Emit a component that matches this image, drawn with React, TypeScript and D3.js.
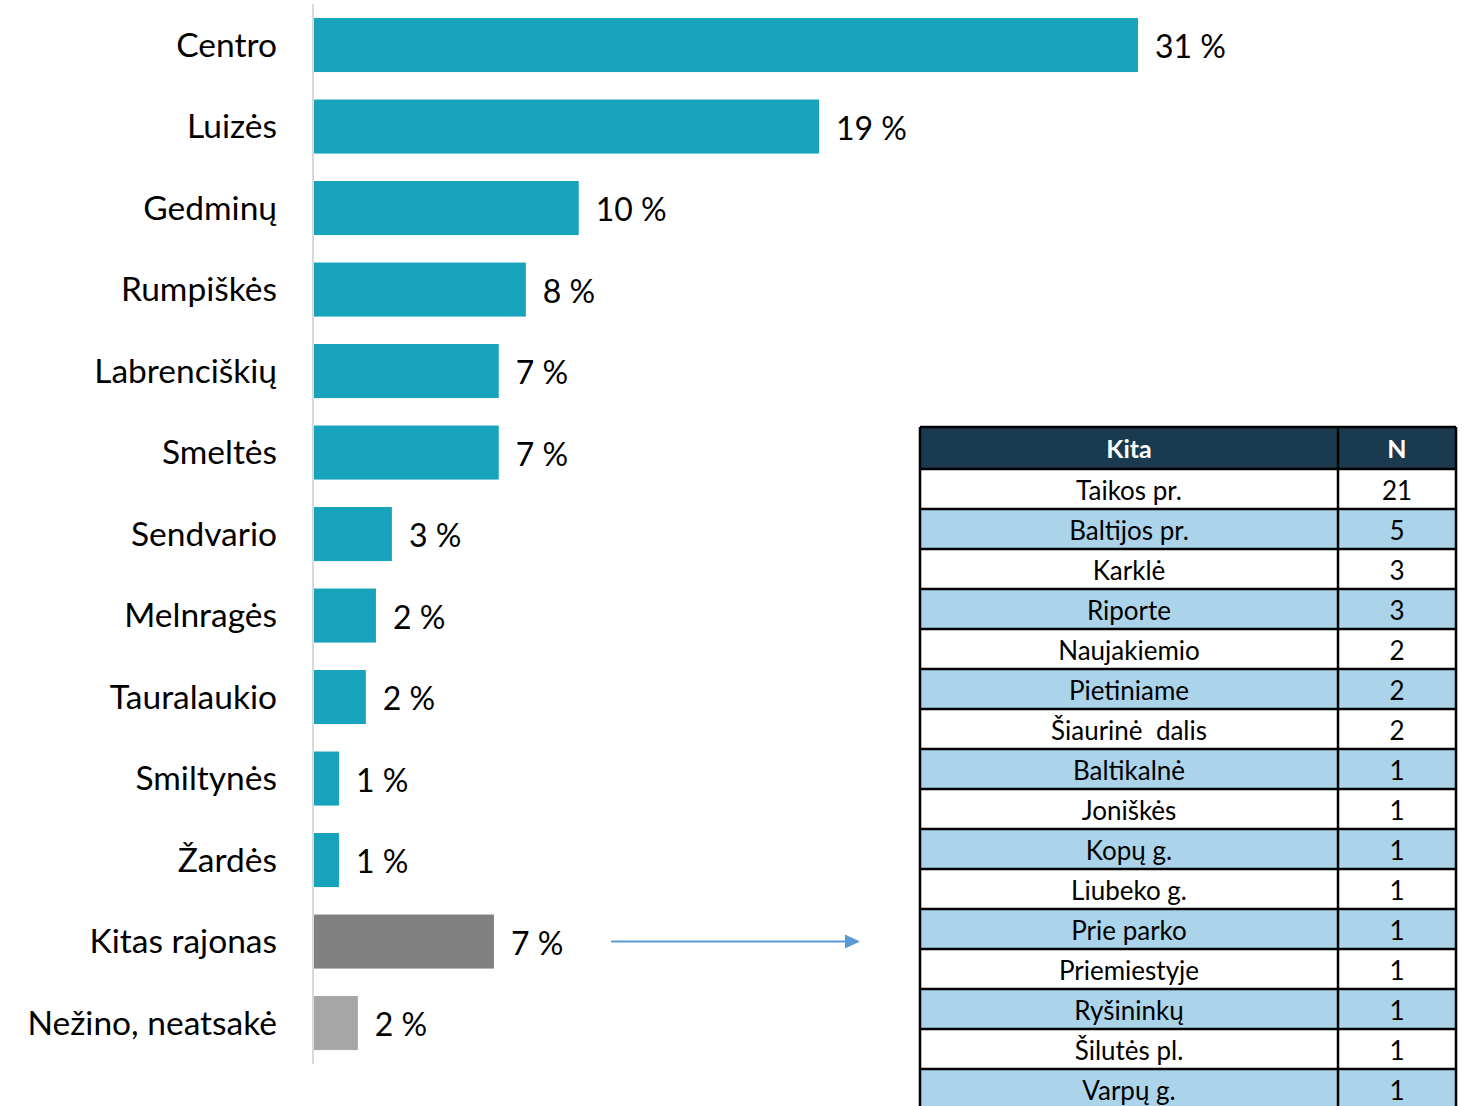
import { useEffect, useRef } from 'react';
import * as d3 from 'd3';

const categories = ['Centro', 'Luizės', 'Gedminų', 'Rumpiškės', 'Labrenciškių', 'Smeltės', 'Sendvario', 'Melnragės', 'Tauralaukio', 'Smiltynės', 'Žardės', 'Kitas rajonas', 'Nežino, neatsakė'];
const values = [31.0, 19.0, 9.96, 7.97, 6.95, 6.95, 2.93, 2.33, 1.95, 0.94, 0.94, 6.77, 1.65];
const valueLabels = ['31 %', '19 %', '10 %', '8 %', '7 %', '7 %', '3 %', '2 %', '2 %', '1 %', '1 %', '7 %', '2 %'];

const tableNames = ['Taikos pr.', 'Baltijos pr.', 'Karklė', 'Riporte', 'Naujakiemio', 'Pietiniame', 'Šiaurinė  dalis', 'Baltikalnė', 'Joniškės', 'Kopų g.', 'Liubeko g.', 'Prie parko', 'Priemiestyje', 'Ryšininkų', 'Šilutės pl.', 'Varpų g.'];
const tableCounts = [21, 5, 3, 3, 2, 2, 2, 1, 1, 1, 1, 1, 1, 1, 1, 1];

const FONT = 'Lato, "Open Sans", sans-serif';

export default function App() {
  const svgRef = useRef<SVGSVGElement>(null);

  useEffect(() => {
    document.body.style.margin = '0';
    if (!svgRef.current) return;
    const svg = d3.select(svgRef.current);
    svg.selectAll('*').remove();

    const x = d3.scaleLinear().domain([0, 31]).range([314, 1138]);
    const y = d3.scaleBand<string>().domain(categories).range([4.3, 1063.8]).paddingInner(0.337).paddingOuter(0.1685);

    const colorFor = (c: string) => (c === 'Kitas rajonas' ? '#808080' : c === 'Nežino, neatsakė' ? '#a6a6a6' : '#16a3bb');

    // bars
    svg.append('g')
      .selectAll('rect')
      .data(categories)
      .enter()
      .append('rect')
      .attr('x', x(0))
      .attr('y', d => y(d)!)
      .attr('width', (d, i) => x(values[i]) - x(0))
      .attr('height', y.bandwidth())
      .attr('fill', d => colorFor(d));

    // axis line
    svg.append('line')
      .attr('x1', 313).attr('x2', 313)
      .attr('y1', 4).attr('y2', 1064)
      .attr('stroke', '#d9d9d9').attr('stroke-width', 2);

    // category labels
    svg.append('g')
      .selectAll('text')
      .data(categories)
      .enter()
      .append('text')
      .attr('x', 277)
      .attr('y', d => y(d)! + y.bandwidth() / 2)
      .attr('dy', '0.35em')
      .attr('text-anchor', 'end')
      .attr('font-family', FONT)
      .attr('font-size', 33.5)
      .attr('fill', '#000')
      .text(d => d);

    // value labels
    svg.append('g')
      .selectAll('text')
      .data(categories)
      .enter()
      .append('text')
      .attr('x', (d, i) => x(values[i]) + 17)
      .attr('y', d => y(d)! + y.bandwidth() / 2 + 2)
      .attr('dy', '0.35em')
      .attr('font-family', FONT)
      .attr('font-size', 32)
      .attr('fill', '#000')
      .text((d, i) => valueLabels[i]);

    // arrow
    const ay = y('Kitas rajonas')! + y.bandwidth() / 2;
    svg.append('line')
      .attr('x1', 611).attr('x2', 846)
      .attr('y1', ay).attr('y2', ay)
      .attr('stroke', '#5b9bd5').attr('stroke-width', 2);
    svg.append('path')
      .attr('d', `M845,${ay - 7}L860,${ay}L845,${ay + 7}Z`)
      .attr('fill', '#5b9bd5');

    // table
    const tLeft = 920, tMid = 1338, tRight = 1456;
    const headerTop = 427, headerH = 42, rowH = 40;
    const rowY = d3.scaleLinear().domain([0, 1]).range([headerTop + headerH, headerTop + headerH + rowH]);
    const tbl = svg.append('g');

    tbl.append('rect')
      .attr('x', tLeft).attr('y', headerTop)
      .attr('width', tRight - tLeft).attr('height', headerH)
      .attr('fill', '#1a3a4f');

    tbl.selectAll('rect.row')
      .data(tableNames)
      .enter()
      .append('rect')
      .attr('class', 'row')
      .attr('x', tLeft).attr('y', (d, i) => rowY(i))
      .attr('width', tRight - tLeft).attr('height', rowH)
      .attr('fill', (d, i) => (i % 2 === 0 ? '#ffffff' : '#abd4eb'));

    // grid lines
    const lineYs = [headerTop, ...d3.range(tableNames.length + 1).map(i => rowY(i))];
    tbl.selectAll('line.h')
      .data(lineYs)
      .enter()
      .append('line')
      .attr('x1', tLeft).attr('x2', tRight)
      .attr('y1', d => d).attr('y2', d => d)
      .attr('stroke', '#000').attr('stroke-width', 2.5);
    [tLeft, tMid, tRight].forEach(xx => {
      tbl.append('line')
        .attr('x1', xx).attr('x2', xx)
        .attr('y1', headerTop).attr('y2', rowY(tableNames.length))
        .attr('stroke', '#000').attr('stroke-width', 2.5);
    });

    const nameX = (tLeft + tMid) / 2;
    const nX = (tMid + tRight) / 2;

    tbl.append('text')
      .attr('x', nameX).attr('y', headerTop + headerH / 2 + 1)
      .attr('dy', '0.35em').attr('text-anchor', 'middle')
      .attr('font-family', FONT).attr('font-size', 25).attr('font-weight', 'bold')
      .attr('fill', '#fff').text('Kita');
    tbl.append('text')
      .attr('x', nX).attr('y', headerTop + headerH / 2 + 1)
      .attr('dy', '0.35em').attr('text-anchor', 'middle')
      .attr('font-family', FONT).attr('font-size', 25).attr('font-weight', 'bold')
      .attr('fill', '#fff').text('N');

    tbl.selectAll('text.name')
      .data(tableNames)
      .enter()
      .append('text')
      .attr('class', 'name')
      .attr('x', nameX).attr('y', (d, i) => rowY(i) + rowH / 2 + 2)
      .attr('dy', '0.35em').attr('text-anchor', 'middle')
      .attr('font-family', FONT).attr('font-size', 26)
      .attr('fill', '#000')
      .style('white-space', 'pre')
      .text(d => d);

    tbl.selectAll('text.count')
      .data(tableCounts)
      .enter()
      .append('text')
      .attr('class', 'count')
      .attr('x', nX).attr('y', (d, i) => rowY(i) + rowH / 2 + 2)
      .attr('dy', '0.35em').attr('text-anchor', 'middle')
      .attr('font-family', FONT).attr('font-size', 26)
      .attr('fill', '#000')
      .text(d => d);
  }, []);

  return <svg ref={svgRef} width={1470} height={1106} style={{ display: 'block' }} />;
}
